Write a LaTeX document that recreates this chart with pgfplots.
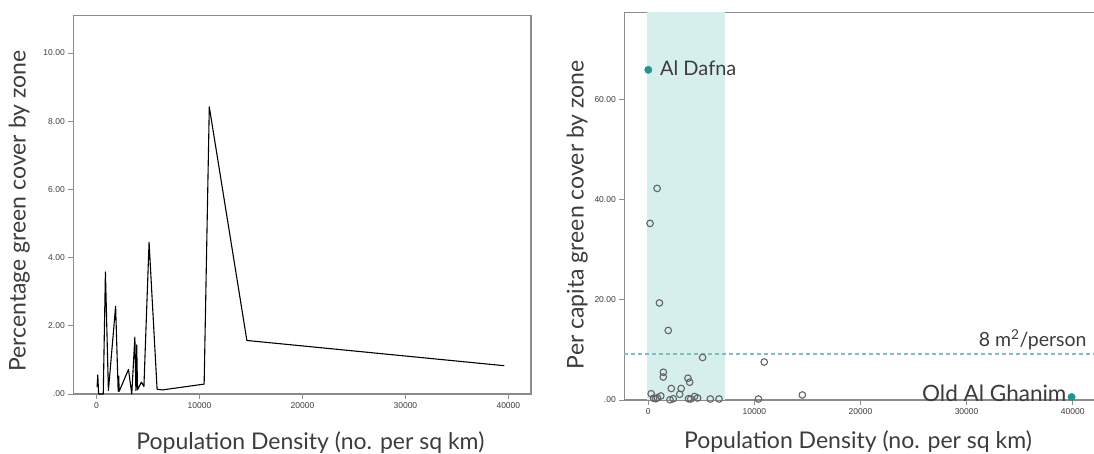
\documentclass[border=0pt]{standalone}
\usepackage{fontspec}
\setmainfont{Lato}
\newfontfamily\tickfont{Liberation Sans}
\usepackage{pgfplots}
\pgfplotsset{compat=1.18}

\definecolor{spine}{RGB}{140,140,140}
\definecolor{tealdot}{RGB}{32,150,140}
\definecolor{band}{RGB}{214,238,236}
\definecolor{refline}{RGB}{125,190,195}
\definecolor{ring}{RGB}{100,100,100}
\definecolor{labelgray}{RGB}{60,60,60}

\pgfplotsset{
  spss/.style={
    scale only axis,
    axis line style={spine, line width=1.3pt},
    tick align=outside, tick pos=left,
    major tick length=5pt,
    tick style={spine, line width=1pt},
    ticklabel style={font=\tickfont\fontsize{8.5}{9}\selectfont, text=labelgray},
    /pgf/number format/assume math mode=true,
    scaled x ticks=false,
    label style={font=\fontsize{23}{26}\selectfont, text=labelgray},
    xlabel={Population Density (no. per sq km)},
    xtick={0,10000,20000,30000,40000},
    xticklabels={0,10000,20000,30000,40000},
    xmin=-2260, xmax=42200, ymin=0,
    clip=false,
  },
}

\begin{document}
\begin{tikzpicture}
\path[use as bounding box] (0,0) rectangle (1094pt,453pt);

% left: percentage green cover
\begin{axis}[spss,
  at={(73.3pt,59pt)}, anchor=south west,
  width=457.7pt, height=378.5pt,
  ymax=11.1,
  ytick={0,2,4,6,8,10},
  yticklabels={.00,2.00,4.00,6.00,8.00,10.00},
  ylabel={Percentage green cover by zone},
  xlabel style={at={(axis description cs:0.518,-0.127)}, anchor=center},
  ylabel style={at={(axis description cs:-0.118,0.4835)}, anchor=center},
]
\addplot[black, line width=1.1pt, line join=round] coordinates {
  (50,0.2) (120,0.56) (200,0.0) (650,0.0) (860,3.58) (1150,0.1)
  (1850,2.57) (2100,0.08) (2150,0.52) (2200,0.08) (3100,0.72)
  (3420,0.0) (3720,1.67) (3820,0.1) (3900,1.44) (3980,0.12)
  (4350,0.35) (4600,0.22) (5100,4.45) (5880,0.14) (6400,0.12)
  (10450,0.29) (10950,8.42) (14600,1.57) (39600,0.83)
};
\end{axis}

% right: per capita green cover
\begin{axis}[spss,
  at={(624.3pt,53pt)}, anchor=south west,
  width=471.7pt, height=387.7pt,
  ymax=77.5,
  ytick={0,20,40,60},
  yticklabels={.00,20.00,40.00,60.00},
  ylabel={Per capita green cover by zone},
  xlabel style={at={(axis description cs:0.4954,-0.108)}, anchor=center},
  ylabel style={at={(axis description cs:-0.100,0.478)}, anchor=center},
]
\addplot[draw=none, fill=band] coordinates {(-150,77.5) (7200,77.5)} \closedcycle;
\addplot[refline, line width=1.2pt, dash pattern=on 4pt off 3pt]
  coordinates {(-2260,9.2) (42200,9.2)};
\addplot[only marks, mark=o, mark size=3.3pt, mark options={ring, line width=1.1pt}]
  coordinates {
  (167,35.3) (833,42.3) (1050,19.4) (1880,13.9) (5120,8.5) (10930,7.6)
  (1420,5.55) (1410,4.6) (3740,4.35) (3900,3.55) (2170,2.3) (3100,2.3)
  (270,1.25) (1180,0.8) (2960,1.15) (500,0.35) (700,0.25) (860,0.45)
  (2350,0.25) (2050,0.05) (3790,0.25) (4000,0.2) (4360,0.7) (4650,0.4)
  (5850,0.2) (6670,0.2) (10380,0.2) (14520,1.0)
};
\addplot[only marks, mark=*, mark size=3.7pt, tealdot]
  coordinates {(0,66.0) (39900,0.6)};
\node[anchor=base west, inner sep=0pt, font=\fontsize{20}{24}\selectfont, text=labelgray]
  at (axis cs:1100,64.8) {Al Dafna};
\node[anchor=base east, inner sep=0pt, font=\fontsize{22.5}{24}\selectfont, text=labelgray]
  at (axis cs:39430,-0.3) {Old Al Ghanim};
\node[anchor=base east, inner sep=0pt, font=\fontsize{19.5}{24}\selectfont, text=labelgray]
  at (axis cs:41320,10.66) {8 m\textsuperscript{2}/person};
\end{axis}
\end{tikzpicture}
\end{document}
